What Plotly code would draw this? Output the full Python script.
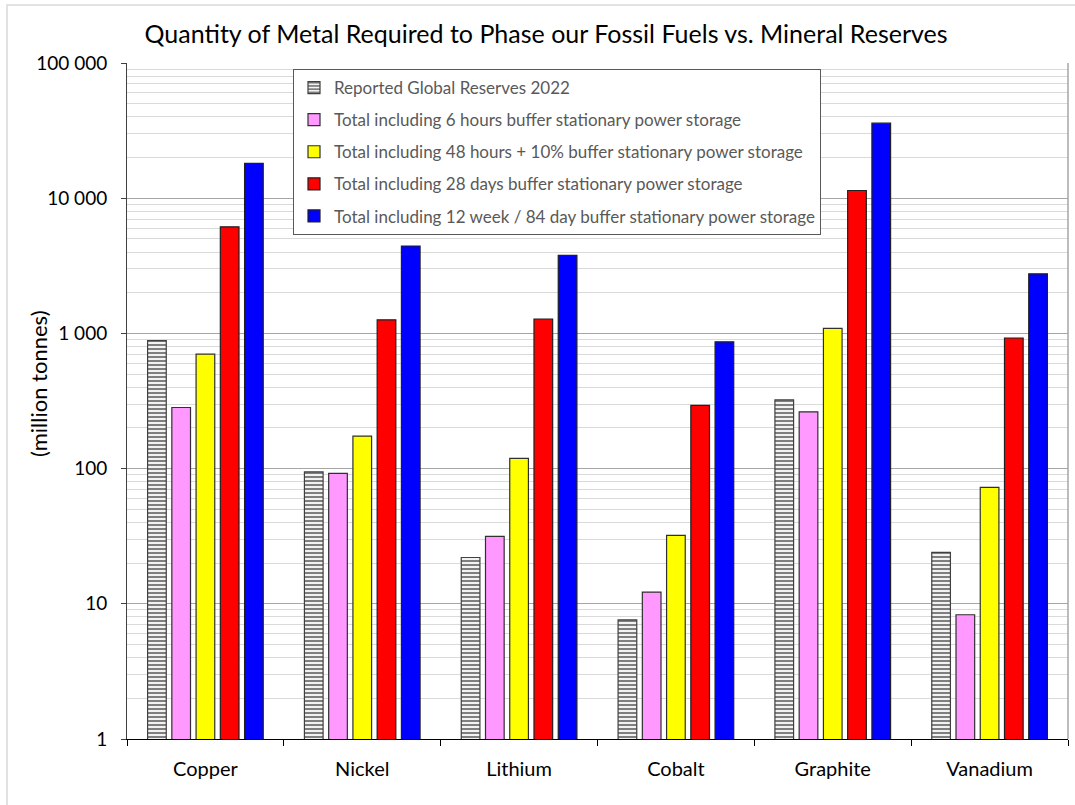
import plotly.graph_objects as go

# Metals and the tonnage (million tonnes) for each scenario
metals = ["Copper", "Nickel", "Lithium", "Cobalt", "Graphite", "Vanadium"]
reserves_2022 = [883, 94.5, 22, 7.6, 322, 24]
buffer_6h = [283, 92.3, 31.5, 12.2, 263, 8.3]
buffer_48h = [703, 174, 119, 32.1, 1090, 72.7]
buffer_28d = [6140, 1260, 1275, 294, 11400, 925]
buffer_84d = [18070, 4430, 3780, 867, 35900, 2760]

series_names = [
    "Reported Global Reserves 2022",
    "Total including 6 hours buffer stationary power storage",
    "Total including 48 hours + 10% buffer stationary power storage",
    "Total including 28 days buffer stationary power storage",
    "Total including 12 week / 84 day buffer stationary power storage",
]
series_values = [reserves_2022, buffer_6h, buffer_48h, buffer_28d, buffer_84d]
fill_colors = ["#FFFFFF", "#FF99FF", "#FFFF00", "#FF0000", "#0000FF"]
edge_colors = ["#404040", "#303030", "#303030", "#202020", "#202020"]

y_tick_vals = [1, 10, 100, 1000, 10000, 100000]
y_tick_text = ["1", "10", "100", "1 000", "10 000", "100 000"]
minor_vals = [m * 10 ** e for e in range(0, 5) for m in range(2, 10)]

fig = go.Figure()
for i, (name, vals) in enumerate(zip(series_names, series_values)):
    marker = dict(color=fill_colors[i], line=dict(color=edge_colors[i], width=1.2))
    if i == 0:
        marker["pattern"] = dict(shape="-", fgcolor="#7F7F7F", bgcolor="#FFFFFF",
                                 size=4, solidity=0.55, fillmode="replace")
    fig.add_trace(go.Bar(x=metals, y=vals, name=name, marker=marker,
                         legendgroup=f"g{i}"))

L, R, T, B = 127, 7, 63, 66
W, H = 1075, 805
pw, ph = W - L - R, H - T - B

fig.update_layout(
    width=W, height=H,
    margin=dict(l=L, r=R, t=T, b=B),
    paper_bgcolor="white", plot_bgcolor="white",
    barmode="group", bargap=0.227, bargroupgap=0.23,
    font=dict(family="Lato, sans-serif", color="#404040"),
    title=dict(text="Quantity of Metal Required to Phase our Fossil Fuels vs. Mineral Reserves",
               x=0.508, xanchor="center", y=1 - 34 / H, yanchor="middle",
               font=dict(size=25, color="#000000")),
    legend=dict(x=(293 - L) / pw, xanchor="left", y=1 - (69 - T) / ph, yanchor="top",
                bgcolor="white", bordercolor="#595959", borderwidth=1,
                font=dict(size=17, color="#595959"),
                traceorder="grouped", tracegroupgap=7),
    showlegend=True,
)

fig.update_xaxes(
    type="category", showgrid=False,
    showline=True, linecolor="#000000", linewidth=1,
    ticks="outside", tickson="boundaries", ticklen=6, tickcolor="#000000",
    tickfont=dict(size=20, color="#000000"), ticklabelstandoff=12,
)

fig.update_yaxes(
    type="log", range=[0, 5],
    tickvals=y_tick_vals, ticktext=y_tick_text,
    tickfont=dict(size=19, color="#000000"), ticklabelstandoff=10,
    ticks="outside", ticklen=5, tickcolor="#404040",
    showline=True, linecolor="#404040", linewidth=1,
    showgrid=True, gridcolor="#A6A6A6", gridwidth=1,
    minor=dict(tickvals=minor_vals, showgrid=True, gridcolor="#DADADA", gridwidth=1, ticks=""),
    zeroline=False,
)

# y-axis title placed beside the shorter mid-range tick labels
fig.add_annotation(text="(million tonnes)", textangle=-90, showarrow=False,
                   xref="paper", yref="paper", x=(38 - L) / pw, y=(739 - 384) / ph,
                   xanchor="center", yanchor="middle",
                   font=dict(size=22, color="#000000"))

# plot-area right border and outer chart frame
fig.add_shape(type="line", xref="paper", yref="paper", x0=1, x1=1, y0=0, y1=1,
              line=dict(color="#A6A6A6", width=1.5))
fig.add_shape(type="rect", xref="paper", yref="paper",
              x0=(7 - L) / pw, x1=(W + 10 - L) / pw,
              y0=-(H + 10 - (H - B)) / ph, y1=1 + (T - 5) / ph,
              line=dict(color="#D9D9D9", width=1.5), layer="below")

fig.write_html("out.html")
